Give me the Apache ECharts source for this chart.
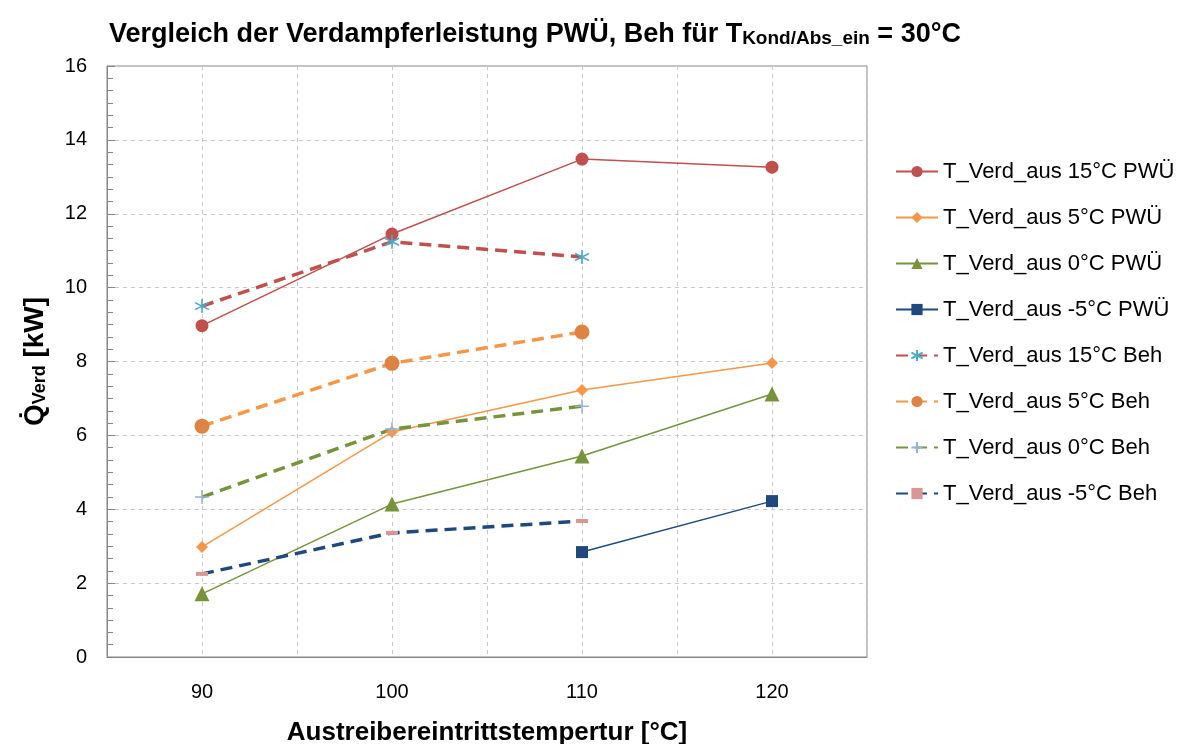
<!DOCTYPE html>
<html><head><meta charset="utf-8">
<script src="https://cdn.jsdelivr.net/npm/echarts@6/dist/echarts.min.js"></script>
<style>html,body{margin:0;padding:0;background:#fff}#c{width:1195px;height:744px}</style>
</head><body><div id="c"></div>
<script>
const xValues = [90, 100, 110, 120];
const seriesNames = ['T_Verd_aus 15°C PWÜ','T_Verd_aus 5°C PWÜ','T_Verd_aus 0°C PWÜ','T_Verd_aus -5°C PWÜ',
  'T_Verd_aus 15°C Beh','T_Verd_aus 5°C Beh','T_Verd_aus 0°C Beh','T_Verd_aus -5°C Beh'];
const pwu15 = [8.97, 11.45, 13.48, 13.26];
const pwu5  = [2.98, 6.09, 7.23, 7.96];
const pwu0  = [1.71, 4.14, 5.44, 7.12];
const pwuM5 = [null, null, 2.84, 4.22];
const beh15 = [9.50, 11.24, 10.83, null];
const beh5  = [6.25, 7.95, 8.80, null];
const beh0  = [4.33, 6.17, 6.79, null];
const behM5 = [2.25, 3.36, 3.68, null];
const yTicks = [0, 2, 4, 6, 8, 10, 12, 14, 16];
const xTickLabels = [90, 100, 110, 120];

const font = 'Liberation Sans';
function pts(vals){ return xValues.map((x,i)=>[x, vals[i]]).filter(p=>p[1]!==null); }
const asterisk = 'path://M0,-10L0,10M-8.66,-5L8.66,5M-8.66,5L8.66,-5';
const plus = 'path://M0,-10L0,10M-10,0L10,0';

function solid(name, vals, color, symbol, size){
  return {name, type:'line', data:pts(vals), symbol, symbolSize:size,
    lineStyle:{color, width:1.5}, itemStyle:{color}, emphasis:{disabled:true}};
}
function dashed(name, vals, lineColor, symbol, size, markStyle){
  return {name, type:'line', data:pts(vals), symbol, symbolSize:size,
    lineStyle:{color:lineColor, width:3.5, type:[12,7]}, itemStyle:markStyle, emphasis:{disabled:true}};
}

const chart = echarts.init(document.getElementById('c'));
chart.setOption({
  animation:false,
  backgroundColor:'#fff',
  title:{
    text:'{a|Vergleich der Verdampferleistung PWÜ, Beh für T}{b|Kond/Abs_ein}{a| = 30°C}',
    left:104, top:9,
    textStyle:{rich:{
      a:{fontFamily:font, fontSize:27, fontWeight:'bold', color:'#000', verticalAlign:'bottom', lineHeight:34},
      b:{fontFamily:font, fontSize:19, fontWeight:'bold', color:'#000', verticalAlign:'bottom', lineHeight:25}
    }}
  },
  legend:{
    orient:'vertical', left:890, top:154, itemGap:21, itemWidth:42, itemHeight:14,
    textStyle:{fontFamily:font, fontSize:22, color:'#000', lineHeight:25},
    data:seriesNames
  },
  grid:{left:107, right:328, top:66, bottom:87, show:true, borderColor:'#868686', borderWidth:1,
    containLabel:false, outerBoundsMode:'none'},
  xAxis:{
    type:'value', min:85, max:125, interval:5,
    name:'Austreibereintrittstempertur [°C]', nameLocation:'middle', nameGap:63,
    nameTextStyle:{fontFamily:font, fontSize:26, fontWeight:'bold', color:'#000'},
    axisLine:{show:true, lineStyle:{color:'#868686'}},
    axisTick:{show:false},
    axisLabel:{fontFamily:font, fontSize:20, color:'#000', margin:25,
      formatter:v=> xTickLabels.indexOf(v)>=0 ? String(v) : ''},
    splitLine:{show:true, lineStyle:{color:'#c8c8c8', type:[4,4]}}
  },
  yAxis:{
    type:'value', min:yTicks[0], max:yTicks[yTicks.length-1], interval:2,
    name:'{q|Q\u0307}{s|Verd}{q| [kW]}', nameLocation:'middle', nameGap:58, nameRotate:90,
    nameTextStyle:{rich:{
      q:{fontFamily:font, fontSize:28, fontWeight:'bold', color:'#000', verticalAlign:'bottom', lineHeight:34},
      s:{fontFamily:font, fontSize:18, fontWeight:'bold', color:'#000', verticalAlign:'bottom', lineHeight:24}
    }},
    axisLine:{show:true, lineStyle:{color:'#868686'}},
    axisTick:{show:true, inside:true, length:8, lineStyle:{color:'#868686'}},
    minorTick:{show:true, splitNumber:6, length:6, lineStyle:{color:'#868686'}},
    axisLabel:{fontFamily:font, fontSize:20, color:'#000', margin:20},
    splitLine:{show:true, lineStyle:{color:'#c8c8c8', type:[4,4]}}
  },
  series:[
    solid(seriesNames[0], pwu15, '#C0504D', 'circle', 13),
    solid(seriesNames[1], pwu5, '#F79646', 'diamond', 12),
    solid(seriesNames[2], pwu0, '#77933C', 'triangle', 15),
    solid(seriesNames[3], pwuM5, '#1F497D', 'rect', 12),
    dashed(seriesNames[4], beh15, '#C0504D', asterisk, 14, {color:'none', borderColor:'#4BACC6', borderWidth:1.6}),
    dashed(seriesNames[5], beh5, '#F79646', 'circle', 15, {color:'#DE8344'}),
    dashed(seriesNames[6], beh0, '#77933C', plus, 14, {color:'none', borderColor:'#95B3D7', borderWidth:1.5}),
    dashed(seriesNames[7], behM5, '#1F497D', 'rect', [12,4], {color:'#D99694'})
  ]
});
</script></body></html>
